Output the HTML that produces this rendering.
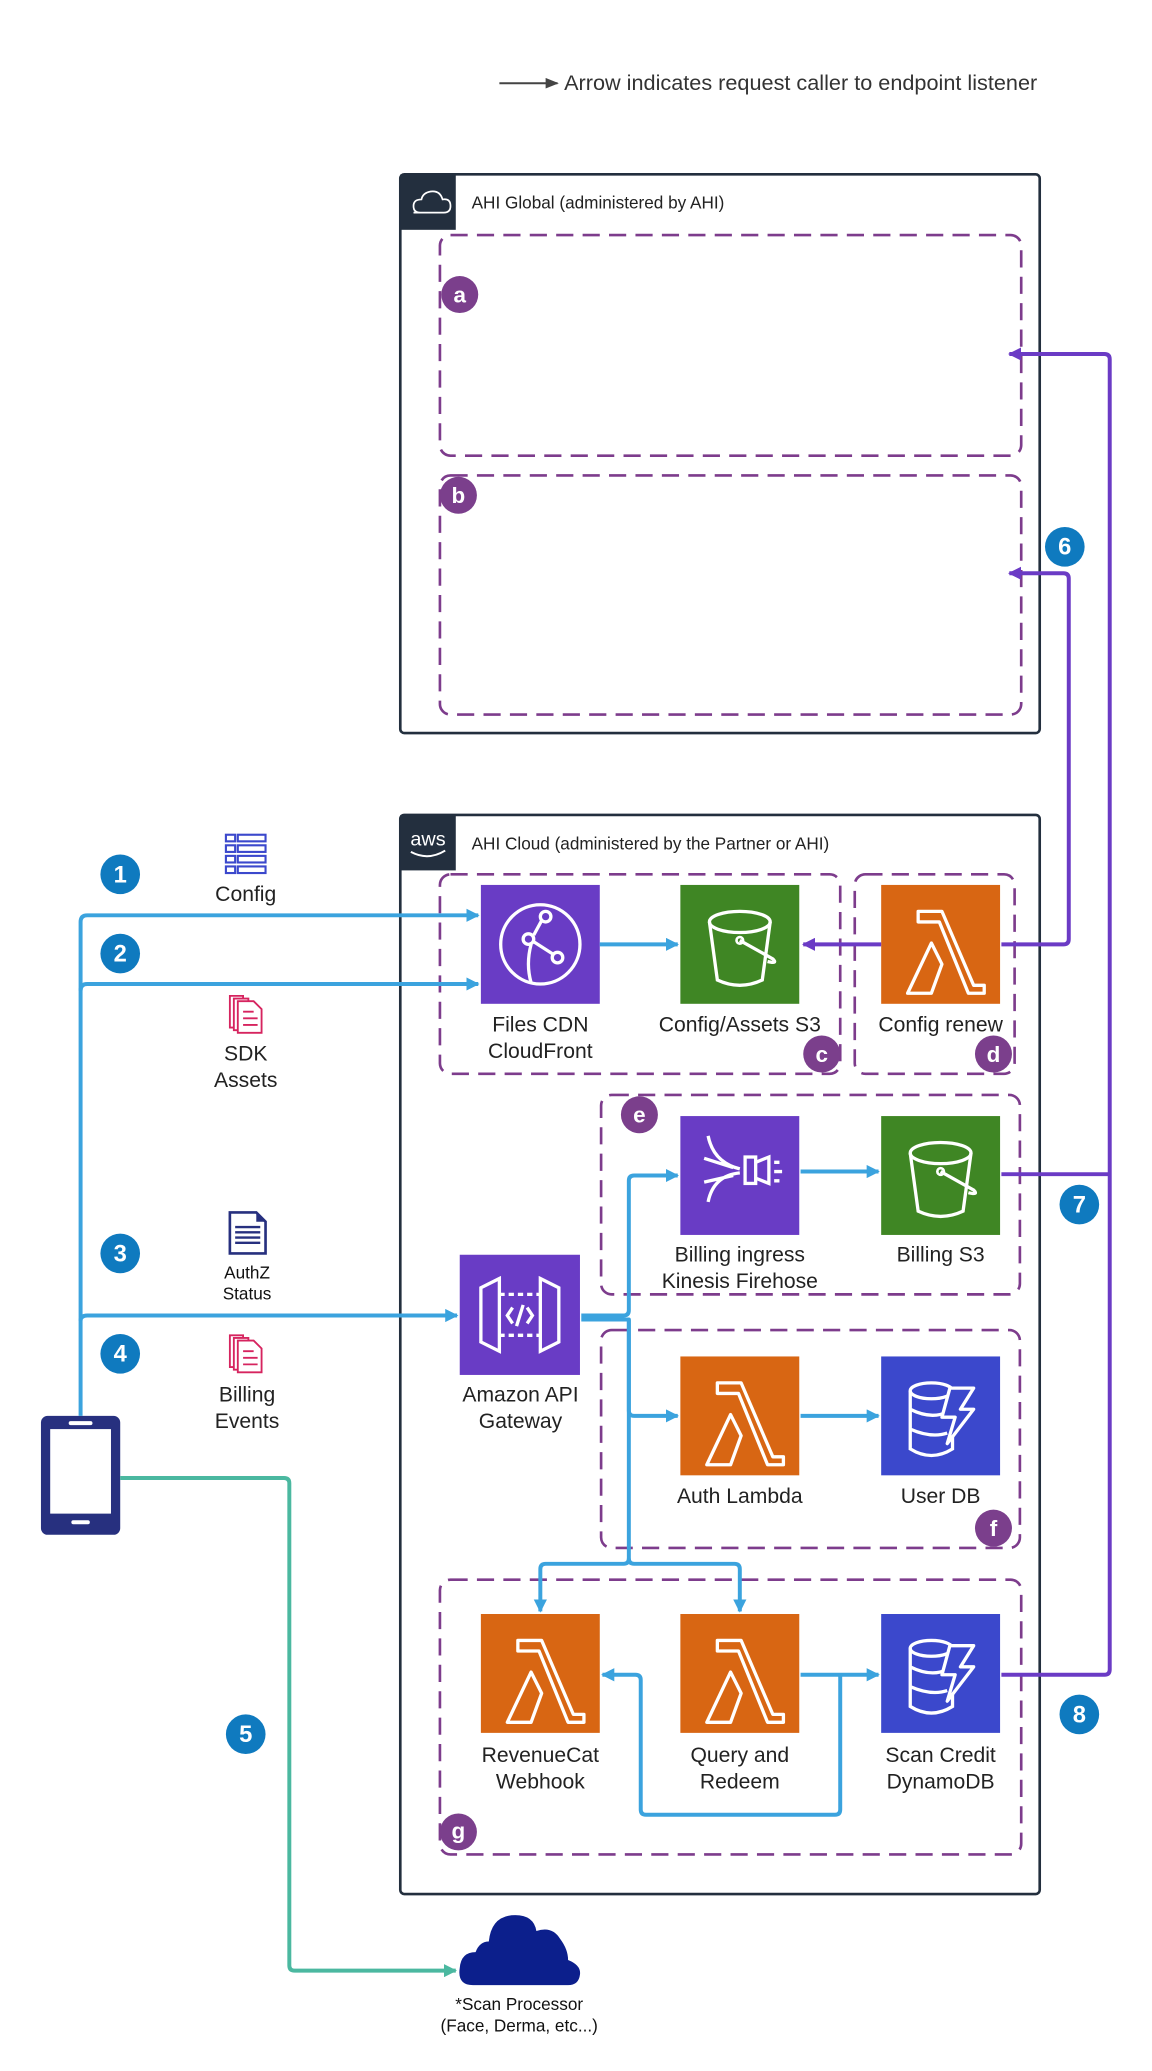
<!DOCTYPE html>
<html><head><meta charset="utf-8"><style>
html,body{margin:0;padding:0;background:#fff}
svg{display:block}
text{font-family:"Liberation Sans",Arial,sans-serif}
</style></head><body>
<svg width="1152" height="2071" viewBox="0 0 872 1568" preserveAspectRatio="none" xmlns="http://www.w3.org/2000/svg">
<defs>
<marker id="ab" markerWidth="10" markerHeight="10" refX="9" refY="5" orient="auto" markerUnits="userSpaceOnUse"><path d="M0,0 L10,5 L0,10 z" fill="#3ba3de"/></marker>
<marker id="ap" markerWidth="10" markerHeight="10" refX="9" refY="5" orient="auto" markerUnits="userSpaceOnUse"><path d="M0,0 L10,5 L0,10 z" fill="#6b3bc5"/></marker>
<marker id="ag" markerWidth="10" markerHeight="10" refX="9" refY="5" orient="auto" markerUnits="userSpaceOnUse"><path d="M0,0 L10,5 L0,10 z" fill="#4bb8a0"/></marker>
<marker id="ak" markerWidth="10" markerHeight="8" refX="9" refY="4" orient="auto" markerUnits="userSpaceOnUse"><path d="M0,0 L10,4 L0,8 z" fill="#444"/></marker>
<g id="lam"><path d="M28,20 H46 L70,76 H78 V82 H66 L44,28 H28 Z M38,44 L46,60 L38,82 H20 Z" fill="none" stroke="#fff" stroke-width="2.5" stroke-linejoin="round"/></g>
<g id="bucket"><ellipse cx="45" cy="28" rx="23" ry="8" fill="none" stroke="#fff" stroke-width="2.5"/><path d="M22,28 L28,72 Q45,80 62,72 L68,28" fill="none" stroke="#fff" stroke-width="2.5"/><circle cx="45" cy="42" r="2.5" fill="none" stroke="#fff" stroke-width="2"/><path d="M45,42 L70,56 Q74,60 66,58" fill="none" stroke="#fff" stroke-width="2.5"/></g>
<g id="ddb"><ellipse cx="38" cy="26" rx="16" ry="6" fill="none" stroke="#fff" stroke-width="2.5"/><path d="M22,26 V70 Q38,80 54,70 V60 M22,40 Q38,48 50,42 M22,55 Q38,62 50,58" fill="none" stroke="#fff" stroke-width="2.5"/><path d="M52,24 H70 L60,40 H70 L50,66 L56,46 H46 Z" fill="#3b48cc" stroke="#fff" stroke-width="2.5" stroke-linejoin="round"/></g>
</defs>

<line x1="378" y1="63" x2="422" y2="63" stroke="#444" stroke-width="1.5" marker-end="url(#ak)"/>
<text x="427" y="68" font-size="16.4" fill="#333">Arrow indicates request caller to endpoint listener</text>

<rect x="303" y="132" width="484" height="423" rx="3" fill="none" stroke="#232f3e" stroke-width="2"/>
<rect x="303" y="132" width="42" height="42" fill="#232f3e"/>
<path d="M313,161 H336 Q341,161 341,156 Q341,150 335,151 Q333,144 326,145 Q320,146 319,151 Q313,151 313,156 Q313,161 318,161" fill="none" stroke="#fff" stroke-width="1.3"/>
<text x="357" y="158" font-size="13" fill="#222">AHI Global (administered by AHI)</text>
<rect x="333" y="178" width="440" height="167" rx="8" fill="none" stroke="#7d3c8c" stroke-width="2" stroke-dasharray="13,7"/>
<rect x="333" y="360" width="440" height="181" rx="8" fill="none" stroke="#7d3c8c" stroke-width="2" stroke-dasharray="13,7"/>

<rect x="303" y="617" width="484" height="817" rx="3" fill="none" stroke="#232f3e" stroke-width="2"/>
<rect x="303" y="617" width="42" height="42" fill="#232f3e"/>
<text x="324" y="640" font-size="15" fill="#fff" text-anchor="middle">aws</text>
<path d="M311,645 Q324,652 337,644" fill="none" stroke="#fff" stroke-width="1.5"/>
<text x="357" y="643" font-size="13" fill="#222">AHI Cloud (administered by the Partner or AHI)</text>

<rect x="333" y="662" width="303" height="151" rx="8" fill="none" stroke="#7d3c8c" stroke-width="2" stroke-dasharray="13,7"/>
<rect x="647" y="662" width="121" height="151" rx="8" fill="none" stroke="#7d3c8c" stroke-width="2" stroke-dasharray="13,7"/>
<rect x="455" y="829" width="317" height="151" rx="8" fill="none" stroke="#7d3c8c" stroke-width="2" stroke-dasharray="13,7"/>
<rect x="455" y="1007" width="317" height="165" rx="8" fill="none" stroke="#7d3c8c" stroke-width="2" stroke-dasharray="13,7"/>
<rect x="333" y="1196" width="440" height="208" rx="8" fill="none" stroke="#7d3c8c" stroke-width="2" stroke-dasharray="13,7"/>

<rect x="364" y="670" width="90" height="90" fill="#693cc5"/>
<g fill="none" stroke="#fff" stroke-width="2.5"><circle cx="409" cy="715" r="30"/><circle cx="413" cy="694" r="4"/><circle cx="400" cy="711" r="4"/><circle cx="422" cy="725" r="4"/><path d="M404,708 L410,697 M404,713 L418,722 M402,715 Q398,730 402,744"/></g>
<rect x="515" y="670" width="90" height="90" fill="#3f8624"/><use href="#bucket" x="515" y="670"/>
<rect x="667" y="670" width="90" height="90" fill="#d86613"/><use href="#lam" x="667" y="670"/>

<rect x="515" y="845" width="90" height="90" fill="#693cc5"/>
<g fill="none" stroke="#fff" stroke-width="2.5"><path d="M536,860 Q540,880 560,885 M536,910 Q540,890 560,888 M533,877 L555,884 M533,895 L555,890"/><rect x="564" y="876" width="8" height="20"/><path d="M572,880 L582,876 V896 L572,892 M586,880 H590 M586,887 H592 M586,894 H590"/></g>
<rect x="667" y="845" width="90" height="90" fill="#3f8624"/><use href="#bucket" x="667" y="845"/>

<rect x="348" y="950" width="91" height="91" fill="#693cc5"/>
<g fill="none" stroke="#fff" stroke-width="2.5"><path d="M378,968 L364,975 V1016 L378,1023 Z M409,968 L423,975 V1016 L409,1023 Z"/><path d="M378,980 H409 M378,1011 H409" stroke-dasharray="4,3"/><path d="M388,990 L384,996 L388,1002 M399,990 L403,996 L399,1002 M396,988 L391,1004"/></g>

<rect x="515" y="1027" width="90" height="90" fill="#d86613"/><use href="#lam" x="515" y="1027"/>
<rect x="667" y="1027" width="90" height="90" fill="#3b48cc"/><use href="#ddb" x="667" y="1027"/>

<rect x="364" y="1222" width="90" height="90" fill="#d86613"/><use href="#lam" x="364" y="1222"/>
<rect x="515" y="1222" width="90" height="90" fill="#d86613"/><use href="#lam" x="515" y="1222"/>
<rect x="667" y="1222" width="90" height="90" fill="#3b48cc"/><use href="#ddb" x="667" y="1222"/>

<g font-size="16" fill="#222" text-anchor="middle">
<text x="409" y="781">Files CDN</text><text x="409" y="801">CloudFront</text>
<text x="560" y="781">Config/Assets S3</text>
<text x="712" y="781">Config renew</text>
<text x="560" y="955">Billing ingress</text><text x="560" y="975">Kinesis Firehose</text>
<text x="712" y="955">Billing S3</text>
<text x="394" y="1061">Amazon API</text><text x="394" y="1081">Gateway</text>
<text x="560" y="1138">Auth Lambda</text><text x="712" y="1138">User DB</text>
<text x="409" y="1334">RevenueCat</text><text x="409" y="1354">Webhook</text>
<text x="560" y="1334">Query and</text><text x="560" y="1354">Redeem</text>
<text x="712" y="1334">Scan Credit</text><text x="712" y="1354">DynamoDB</text>
<text x="186" y="682">Config</text>
<text x="186" y="803">SDK</text><text x="186" y="823">Assets</text>
<text x="187" y="1061">Billing</text><text x="187" y="1081">Events</text>
</g>
<g font-size="13" fill="#111" text-anchor="middle">
<text x="187" y="968">AuthZ</text><text x="187" y="984">Status</text>
<text x="393" y="1522">*Scan Processor</text><text x="393" y="1538">(Face, Derma, etc...)</text>
</g>

<g fill="none" stroke="#3b48cc" stroke-width="1.6"><rect x="171" y="632" width="7" height="5"/><rect x="171" y="640" width="7" height="5"/><rect x="171" y="648" width="7" height="5"/><rect x="171" y="656" width="7" height="5"/><rect x="180" y="632" width="21" height="5"/><rect x="180" y="640" width="21" height="5"/><rect x="180" y="648" width="21" height="5"/><rect x="180" y="656" width="21" height="5"/></g>
<g fill="#fff" stroke="#d6245f" stroke-width="1.4"><path d="M174,754 H184 V778 H174 Z"/><path d="M177,756 H188 V780 H177 Z"/><path d="M180,758 H192 L198,764 V782 H180 Z"/><path d="M184,766 H192 M184,771 H195 M184,776 H195"/></g>
<g fill="#fff" stroke="#d6245f" stroke-width="1.4"><path d="M174,1011 H184 V1035 H174 Z"/><path d="M177,1013 H188 V1037 H177 Z"/><path d="M180,1015 H192 L198,1021 V1039 H180 Z"/><path d="M184,1023 H192 M184,1028 H195 M184,1033 H195"/></g>
<path d="M174,918 H194 L201,925 V949 H174 Z" fill="#fff" stroke="#27307f" stroke-width="2"/><path d="M194,918 L201,925 H194 Z" fill="#27307f"/>
<path d="M178,929 H197 M178,933 H197 M178,937 H197 M178,941 H197" stroke="#27307f" stroke-width="1.8"/>

<rect x="31" y="1072" width="60" height="90" rx="5" fill="#27307f"/>
<rect x="38" y="1082" width="46" height="64" fill="#fff"/>
<rect x="52" y="1076" width="18" height="3" rx="1.5" fill="#fff"/>
<rect x="54" y="1151" width="14" height="3" rx="1.5" fill="#fff"/>

<path d="M358,1503 Q346,1503 348,1490 Q349,1478 360,1478 Q363,1470 370,1470 Q372,1450 390,1450 Q404,1450 406,1462 Q418,1458 424,1468 Q430,1476 430,1484 Q440,1488 439,1495 Q438,1503 430,1503 Z" fill="#0c1f8c"/>

<g fill="none" stroke="#3ba3de" stroke-width="3" stroke-linejoin="round">
<path d="M61,1072 V698 Q61,693 66,693 H362" marker-end="url(#ab)"/>
<path d="M61,750 Q61,745 66,745 H362" marker-end="url(#ab)"/>
<path d="M61,1000 Q61,996 66,996 H346" marker-end="url(#ab)"/>
<path d="M454,715 H513" marker-end="url(#ab)"/>
<path d="M440,996 H472 Q476,996 476,992 V894 Q476,890 480,890 H513" marker-end="url(#ab)"/>
<path d="M440,999 H476 V1068 Q476,1072 480,1072 H513" marker-end="url(#ab)"/>
<path d="M476,999 V1180 Q476,1184 472,1184 H413 Q409,1184 409,1188 V1220" marker-end="url(#ab)"/>
<path d="M476,1180 Q476,1184 480,1184 H556 Q560,1184 560,1188 V1220" marker-end="url(#ab)"/>
<path d="M606,887 H665" marker-end="url(#ab)"/>
<path d="M606,1072 H665" marker-end="url(#ab)"/>
<path d="M606,1268 H665" marker-end="url(#ab)"/>
<path d="M636,1268 V1370 Q636,1374 632,1374 H489 Q485,1374 485,1370 V1272 Q485,1268 481,1268 H456" marker-end="url(#ab)"/>
</g>
<path d="M91,1119 H215 Q219,1119 219,1123 V1488 Q219,1492 223,1492 H345" fill="none" stroke="#4bb8a0" stroke-width="3" marker-end="url(#ag)"/>
<g fill="none" stroke="#6b3bc5" stroke-width="3" stroke-linejoin="round">
<path d="M667,715 H608" marker-end="url(#ap)"/>
<path d="M758,715 H805 Q809,715 809,711 V438 Q809,434 805,434 H764" marker-end="url(#ap)"/>
<path d="M758,889 H840"/>
<path d="M758,1268 H836 Q840,1268 840,1264 V272 Q840,268 836,268 H764" marker-end="url(#ap)"/>
</g>

<g font-size="17" font-weight="bold" fill="#fff" text-anchor="middle">
<circle cx="348" cy="223" r="14" fill="#7b3f8c"/><text x="348" y="229">a</text>
<circle cx="347" cy="375" r="14" fill="#7b3f8c"/><text x="347" y="381">b</text>
<circle cx="622" cy="798" r="14" fill="#7b3f8c"/><text x="622" y="804">c</text>
<circle cx="752" cy="798" r="14" fill="#7b3f8c"/><text x="752" y="804">d</text>
<circle cx="484" cy="844" r="14" fill="#7b3f8c"/><text x="484" y="850">e</text>
<circle cx="752" cy="1157" r="14" fill="#7b3f8c"/><text x="752" y="1163">f</text>
<circle cx="347" cy="1387" r="14" fill="#7b3f8c"/><text x="347" y="1392">g</text>
</g>
<g font-size="18" font-weight="bold" fill="#fff" text-anchor="middle">
<circle cx="91" cy="662" r="15" fill="#0f7abf"/><text x="91" y="668">1</text>
<circle cx="91" cy="722" r="15" fill="#0f7abf"/><text x="91" y="728">2</text>
<circle cx="91" cy="949" r="15" fill="#0f7abf"/><text x="91" y="955">3</text>
<circle cx="91" cy="1025" r="15" fill="#0f7abf"/><text x="91" y="1031">4</text>
<circle cx="186" cy="1313" r="15" fill="#0f7abf"/><text x="186" y="1319">5</text>
<circle cx="806" cy="414" r="15" fill="#0f7abf"/><text x="806" y="420">6</text>
<circle cx="817" cy="912" r="15" fill="#0f7abf"/><text x="817" y="918">7</text>
<circle cx="817" cy="1298" r="15" fill="#0f7abf"/><text x="817" y="1304">8</text>
</g>
</svg>
</body></html>
